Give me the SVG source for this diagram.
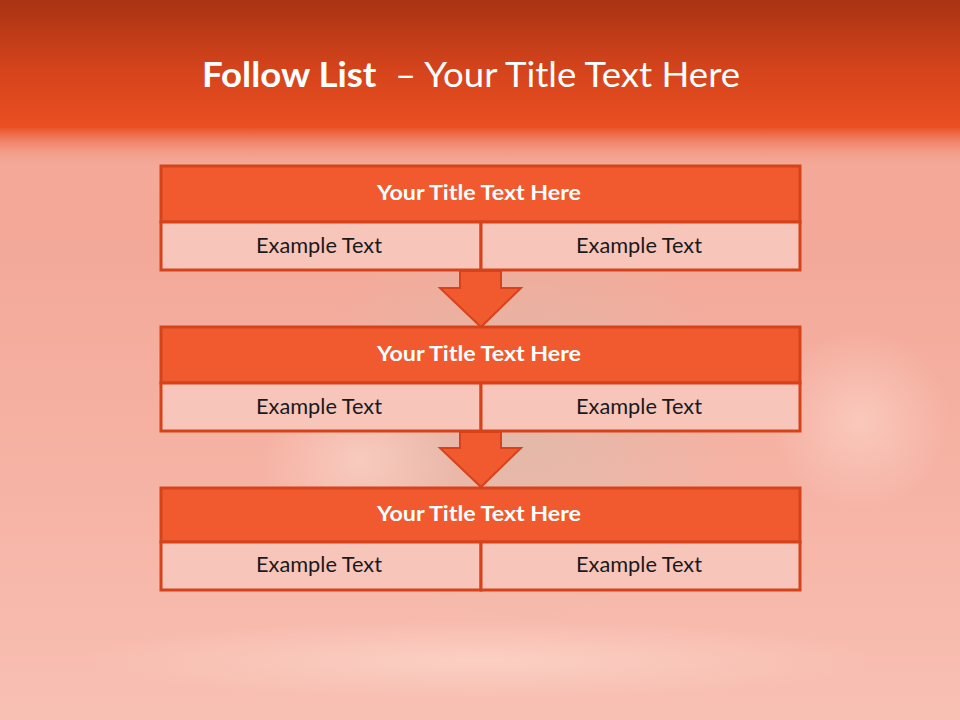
<svg xmlns="http://www.w3.org/2000/svg" width="960" height="720" viewBox="0 0 960 720">
<defs>
<linearGradient id="bg" x1="0" y1="0" x2="0" y2="1">
<stop offset="0" stop-color="#F4A797"/>
<stop offset="0.35" stop-color="#F3A999"/>
<stop offset="0.7" stop-color="#F6B4A6"/>
<stop offset="1" stop-color="#F8C0B3"/>
</linearGradient>
<linearGradient id="band" x1="0" y1="0" x2="0" y2="1">
<stop offset="0" stop-color="#A93313"/>
<stop offset="0.55" stop-color="#D5441C"/>
<stop offset="1" stop-color="#EA4F22"/>
</linearGradient>
<linearGradient id="fade" x1="0" y1="0" x2="0" y2="1">
<stop offset="0" stop-color="#EA4F22" stop-opacity="1"/>
<stop offset="1" stop-color="#F4A797" stop-opacity="0"/>
</linearGradient>
<radialGradient id="glow" cx="0.5" cy="0.5" r="0.5">
<stop offset="0" stop-color="#FFE6DC" stop-opacity="0.45"/>
<stop offset="1" stop-color="#FFE6DC" stop-opacity="0"/>
</radialGradient>
<radialGradient id="teal" cx="0.5" cy="0.5" r="0.5">
<stop offset="0" stop-color="#C9C4B4" stop-opacity="0.45"/>
<stop offset="1" stop-color="#C9C4B4" stop-opacity="0"/>
</radialGradient>
<style>
.title{fill:#F05A2E;stroke:#D6431B;stroke-width:3}
.cell{fill:#F8C5BA;stroke:#D6431B;stroke-width:3}
.arrow{fill:#F05A2E;stroke:#D6431B;stroke-width:2;stroke-linejoin:miter}
.tt{font-family:Lato,"Open Sans","Liberation Sans",sans-serif;font-weight:bold;font-size:21px;fill:#FFFFFF;text-anchor:middle}
.ct{font-family:Lato,"Open Sans","Liberation Sans",sans-serif;font-size:21px;fill:#1A1A1A;text-anchor:middle}
.head{font-family:Lato,"Open Sans","Liberation Sans",sans-serif;font-size:34px;fill:#FFFFFF;text-anchor:middle}
</style>
</defs>
<rect x="0" y="0" width="960" height="720" fill="url(#bg)"/>
<ellipse cx="520" cy="420" rx="220" ry="200" fill="url(#teal)"/>
<ellipse cx="860" cy="420" rx="90" ry="90" fill="url(#glow)"/>
<ellipse cx="360" cy="460" rx="100" ry="80" fill="url(#glow)"/>
<ellipse cx="480" cy="660" rx="400" ry="40" fill="url(#glow)"/>
<rect x="0" y="0" width="960" height="128" fill="url(#band)"/>
<rect x="0" y="127" width="960" height="40" fill="url(#fade)"/>
<text x="471" y="87" class="head" textLength="538" lengthAdjust="spacingAndGlyphs" xml:space="preserve"><tspan font-weight="bold">Follow List</tspan>  – Your Title Text Here</text>

<g id="connectors">
<polygon class="arrow" points="460,271 501,271 501,288 521,288 481,327 440,288 460,288"/>
<polygon class="arrow" points="460,432 501,432 501,448 521,448 481,487 440,448 460,448"/>
</g>

<g id="node1">
<rect class="title" x="161" y="166" width="639" height="56"/>
<rect class="cell" x="161" y="222" width="320" height="48"/>
<rect class="cell" x="481" y="222" width="319" height="48"/>
<text class="tt" x="479" y="200" textLength="204" lengthAdjust="spacingAndGlyphs">Your Title Text Here</text>
<text class="ct" x="319" y="253" textLength="126" lengthAdjust="spacingAndGlyphs">Example Text</text>
<text class="ct" x="639" y="253" textLength="126" lengthAdjust="spacingAndGlyphs">Example Text</text>
</g>
<g id="node2">
<rect class="title" x="161" y="327" width="639" height="56"/>
<rect class="cell" x="161" y="383" width="320" height="48"/>
<rect class="cell" x="481" y="383" width="319" height="48"/>
<text class="tt" x="479" y="361" textLength="204" lengthAdjust="spacingAndGlyphs">Your Title Text Here</text>
<text class="ct" x="319" y="414" textLength="126" lengthAdjust="spacingAndGlyphs">Example Text</text>
<text class="ct" x="639" y="414" textLength="126" lengthAdjust="spacingAndGlyphs">Example Text</text>
</g>
<g id="node3">
<rect class="title" x="161" y="488" width="639" height="54"/>
<rect class="cell" x="161" y="542" width="320" height="48"/>
<rect class="cell" x="481" y="542" width="319" height="48"/>
<text class="tt" x="479" y="521" textLength="204" lengthAdjust="spacingAndGlyphs">Your Title Text Here</text>
<text class="ct" x="319" y="572" textLength="126" lengthAdjust="spacingAndGlyphs">Example Text</text>
<text class="ct" x="639" y="572" textLength="126" lengthAdjust="spacingAndGlyphs">Example Text</text>
</g>
</svg>
